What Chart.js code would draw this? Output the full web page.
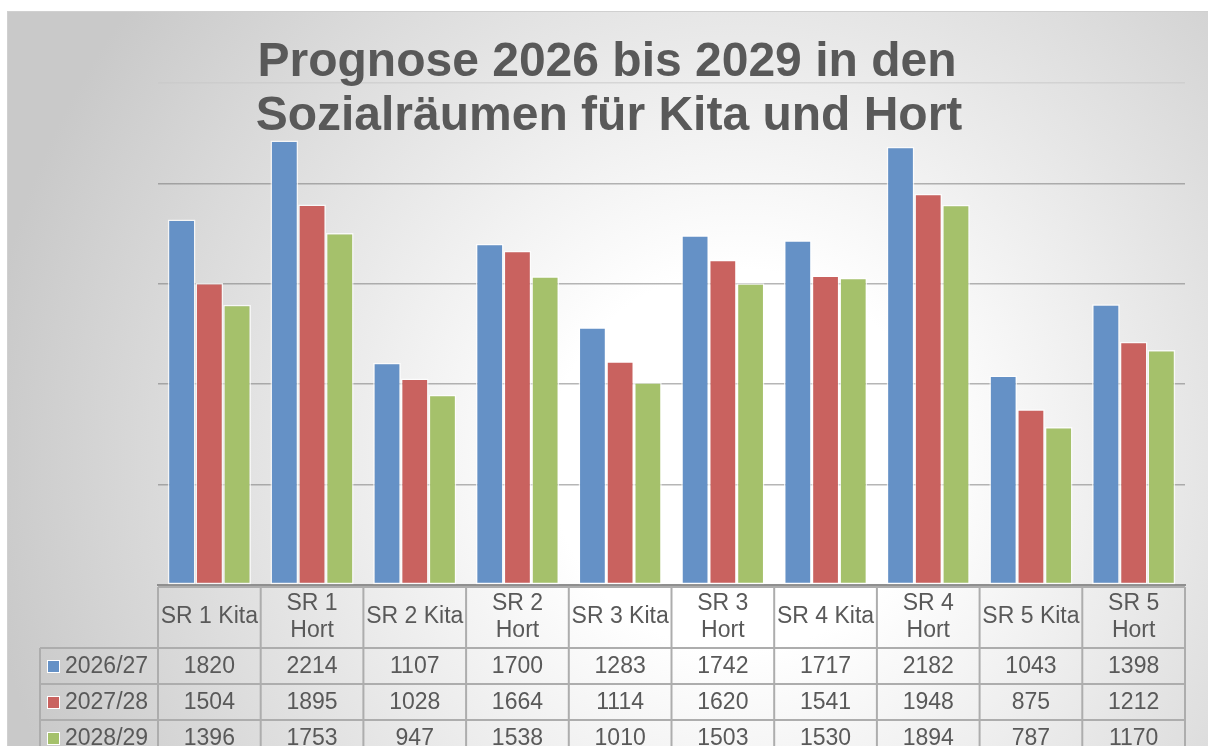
<!DOCTYPE html>
<html>
<head>
<meta charset="utf-8">
<script src="https://cdn.jsdelivr.net/npm/chart.js@4/dist/chart.umd.min.js"></script>
<style>
html,body{margin:0;padding:0;background:#fff;}
#c{display:block;}
</style>
</head>
<body>
<canvas id="c" width="1208" height="746"></canvas>
<script>
const titleLines = ['Prognose 2026 bis 2029 in den', 'Sozialräumen für Kita und Hort'];
const categories = ['SR 1 Kita','SR 1 Hort','SR 2 Kita','SR 2 Hort','SR 3 Kita','SR 3 Hort','SR 4 Kita','SR 4 Hort','SR 5 Kita','SR 5 Hort'];
const seriesNames = ['2026/27','2027/28','2028/29'];
const values2026 = [1820,2214,1107,1700,1283,1742,1717,2182,1043,1398];
const values2027 = [1504,1895,1028,1664,1114,1620,1541,1948,875,1212];
const values2028 = [1396,1753,947,1538,1010,1503,1530,1894,787,1170];
const yMin = 0, yMax = 2500, yStep = 500;
const seriesColors = ['#6591C6','#C9625F','#A5C16B'];

const TEXT = '#595959';
const FONT = '"Liberation Sans", Arial, sans-serif';

const bgPlugin = {
  id: 'bg',
  beforeDraw(chart){
    const ctx = chart.ctx;
    ctx.save();
    ctx.fillStyle = '#ffffff';
    ctx.fillRect(0,0,chart.width,chart.height);
    const g = ctx.createRadialGradient(740,460,0,740,460,760);
    g.addColorStop(0,'#ffffff');
    g.addColorStop(0.25,'#ffffff');
    g.addColorStop(1,'#c9c9c9');
    ctx.fillStyle = g;
    ctx.fillRect(7,11,chart.width-7,chart.height-11);
    ctx.strokeStyle = '#d0d0d0';
    ctx.lineWidth = 1;
    ctx.strokeRect(7.5,11.5,chart.width,chart.height);
    ctx.restore();
  }
};

const titlePlugin = {
  id: 'titleText',
  afterDraw(chart){
    const ctx = chart.ctx;
    ctx.save();
    ctx.fillStyle = TEXT;
    ctx.font = 'bold 48px ' + FONT;
    ctx.textAlign = 'center';
    ctx.textBaseline = 'alphabetic';
    ctx.fillText(titleLines[0], 607, 76);
    ctx.fillText(titleLines[1], 609, 130);
    ctx.restore();
  }
};

const tablePlugin = {
  id: 'dataTable',
  afterDraw(chart){
    const ctx = chart.ctx;
    const xs = chart.scales.x;
    const n = categories.length;
    const w = xs.width / n;
    const left = xs.left, right = xs.right;
    const headTop = chart.chartArea.bottom + 2;
    const headBottom = headTop + 61;
    const rowH = 36;
    const legLeft = 40;
    const all = [values2026, values2027, values2028];
    ctx.save();
    ctx.strokeStyle = '#adadad';
    ctx.lineWidth = 2;
    ctx.beginPath();
    ctx.moveTo(left, headTop); ctx.lineTo(right, headTop);
    for (let r = 0; r <= all.length; r++) {
      const y = headBottom + r*rowH;
      ctx.moveTo(legLeft, y); ctx.lineTo(right, y);
    }
    for (let i = 0; i <= n; i++) {
      const x = left + i*w;
      ctx.moveTo(x, headTop); ctx.lineTo(x, chart.height);
    }
    ctx.moveTo(legLeft, headBottom); ctx.lineTo(legLeft, chart.height);
    ctx.stroke();

    ctx.fillStyle = TEXT;
    ctx.font = '23px ' + FONT;
    ctx.textAlign = 'center';
    ctx.textBaseline = 'middle';
    for (let i = 0; i < n; i++) {
      const cx = xs.getPixelForValue(i);
      const label = categories[i];
      if (ctx.measureText(label).width > w - 3) {
        const k = label.lastIndexOf(' ');
        ctx.fillText(label.slice(0,k), cx, headTop + 17);
        ctx.fillText(label.slice(k+1), cx, headTop + 44);
      } else {
        ctx.fillText(label, cx, headTop + 30);
      }
    }
    for (let r = 0; r < all.length; r++) {
      const cy = headBottom + r*rowH + rowH/2 + 1;
      for (let i = 0; i < n; i++) {
        ctx.fillText(String(all[r][i]), xs.getPixelForValue(i), cy);
      }
      ctx.fillStyle = seriesColors[r];
      ctx.fillRect(47, cy-7, 13, 13);
      ctx.strokeStyle = '#ffffff';
      ctx.lineWidth = 1;
      ctx.strokeRect(47.5, cy-6.5, 12, 12);
      ctx.fillStyle = TEXT;
      ctx.textAlign = 'left';
      ctx.fillText(seriesNames[r], 65, cy);
      ctx.textAlign = 'center';
    }
    ctx.restore();
  }
};

new Chart(document.getElementById('c'), {
  type: 'bar',
  data: {
    labels: categories,
    datasets: [values2026, values2027, values2028].map((v, k) => ({
      label: seriesNames[k],
      data: v,
      backgroundColor: seriesColors[k],
      borderColor: 'rgba(255,255,255,0.75)',
      borderWidth: 1.5,
      borderSkipped: false
    }))
  },
  options: {
    responsive: false,
    animation: false,
    devicePixelRatio: 1,
    layout: { padding: { left: 158, right: 23, top: 83, bottom: 161 } },
    plugins: { legend: { display: false }, title: { display: false }, tooltip: { enabled: false } },
    datasets: { bar: { categoryPercentage: 0.81, barPercentage: 1.0 } },
    scales: {
      x: {
        ticks: { display: false },
        grid: { display: false, drawTicks: false },
        border: { display: true, color: '#8f8f8f', width: 2 }
      },
      y: {
        min: yMin, max: yMax,
        z: 1,
        ticks: { display: false, stepSize: yStep },
        grid: {
          drawTicks: false,
          lineWidth: 1.5,
          color: c => (c.tick && c.tick.value === yMax) ? 'rgba(200,200,200,0.6)' : (c.tick && c.tick.value === yMin ? 'rgba(0,0,0,0)' : 'rgba(110,110,110,0.5)')
        },
        border: { display: false }
      }
    }
  },
  plugins: [bgPlugin, titlePlugin, tablePlugin]
});
</script>
</body>
</html>
